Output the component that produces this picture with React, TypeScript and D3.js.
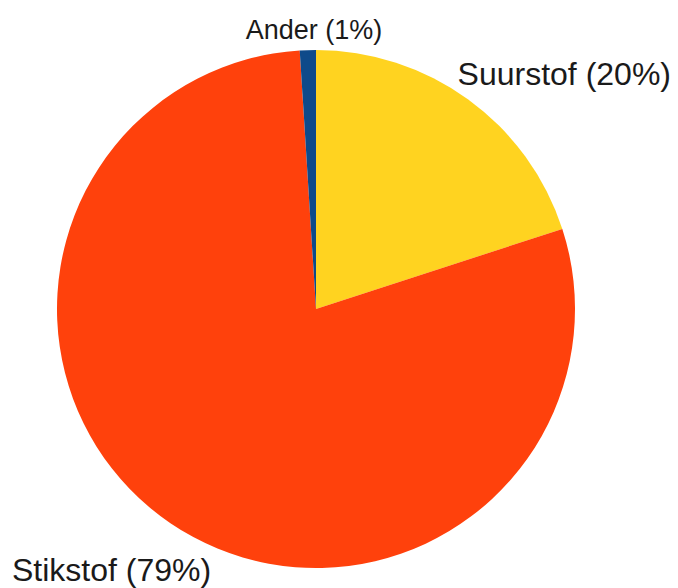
import * as d3 from "d3";

const labels = ["Suurstof", "Stikstof", "Ander"];
const values = [20, 79, 1];
const colors = ["#FFD320", "#FF410C", "#0E4A8A"];

const W = 678;
const H = 588;
const cx = 316;
const cy = 309;
const radius = 259;

export default function App() {
  const pie = d3
    .pie<number>()
    .sort(null)
    .value((d) => d);
  const arcs = pie(values);
  const arc = d3.arc<d3.PieArcDatum<number>>().innerRadius(0).outerRadius(radius);

  // label spots, hand tuned to the reference
  const labelPos = [
    { x: 671, y: 85, size: 32, anchor: "end" },
    { x: 12, y: 581, size: 32, anchor: "start" },
    { x: 314, y: 39, size: 27, anchor: "middle" },
  ];

  return (
    <svg
      width={W}
      height={H}
      style={{ position: "absolute", left: 0, top: 0, background: "#fff" }}
    >
      <g transform={`translate(${cx},${cy})`}>
        {arcs.map((a, i) => (
          <path key={i} d={arc(a) || ""} fill={colors[i]} />
        ))}
      </g>
      {arcs.map((a, i) => (
        <text
          key={"t" + i}
          x={labelPos[i].x}
          y={labelPos[i].y}
          fontSize={labelPos[i].size}
          textAnchor={labelPos[i].anchor}
          fontFamily="Liberation Sans, Arial, sans-serif"
          fill="#1a1a1a"
        >
          {`${labels[i]} (${values[i]}%)`}
        </text>
      ))}
    </svg>
  );
}
